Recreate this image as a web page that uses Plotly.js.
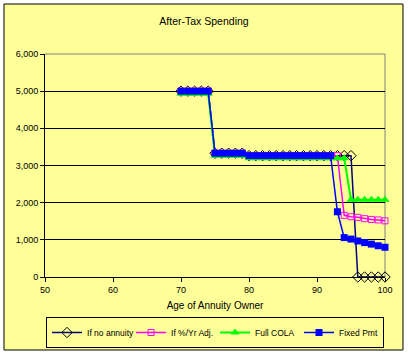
<!DOCTYPE html>
<html>
<head>
<meta charset="utf-8">
<script src="https://cdn.plot.ly/plotly-3.0.1.min.js"></script>
<style>
html,body{margin:0;padding:0;background:#fff;}
#chart{width:408px;height:356px;}
</style>
</head>
<body>
<div id="chart"></div>
<script>
const ages = [70,71,72,73,74,75,76,77,78,79,80,81,82,83,84,85,86,87,88,89,90,91,92,93,94,95,96,97,98,99,100];
const noAnnuity = [5000,5000,5000,5000,5000,3330,3330,3330,3330,3330,3265,3265,3265,3265,3265,3265,3265,3265,3265,3265,3265,3265,3265,3265,3265,3265,0,0,0,0,0];
const pctAdj = [5000,5000,5000,5000,5000,3330,3330,3330,3330,3330,3265,3265,3265,3265,3265,3265,3265,3265,3265,3265,3265,3265,3265,3265,1660,1622,1605,1570,1550,1535,1510];
const fullCola = [4930,4930,4930,4930,4930,3260,3260,3260,3260,3260,3195,3195,3195,3195,3195,3195,3195,3195,3195,3195,3195,3195,3195,3195,3195,2080,2080,2080,2080,2080,2080];
const fixedPmt = [5000,5000,5000,5000,5000,3330,3330,3330,3330,3330,3265,3265,3265,3265,3265,3265,3265,3265,3265,3265,3265,3265,3265,1755,1060,1020,970,925,885,840,800];
const seriesNames = ["If no annuity","If %/Yr Adj.","Full COLA","Fixed Pmt"];
const xTicks = [50,60,70,80,90,100];
const yTicks = [0,1000,2000,3000,4000,5000,6000];

const font = "Arial, 'Liberation Sans', sans-serif";
const traces = [
  {x: ages, y: noAnnuity, name: seriesNames[0], mode: "lines+markers", cliponaxis: false,
   line: {color: "#000080", width: 1.5},
   marker: {symbol: "diamond-open", size: 8, color: "#000000", line: {width: 1}}},
  {x: ages, y: pctAdj, name: seriesNames[1], mode: "lines+markers", cliponaxis: false,
   line: {color: "#FF00FF", width: 1.5},
   marker: {symbol: "square-open", size: 6, color: "#FF00FF", line: {width: 1}}},
  {x: ages, y: fullCola, name: seriesNames[2], mode: "lines+markers", cliponaxis: false,
   line: {color: "#00FF00", width: 2},
   marker: {symbol: "triangle-up", size: 8, color: "#00FF00"}},
  {x: ages, y: fixedPmt, name: seriesNames[3], mode: "lines+markers", cliponaxis: false,
   line: {color: "#0000FF", width: 1.5},
   marker: {symbol: "square", size: 7, color: "#0000FF"}}
];

const layout = {
  width: 408, height: 356,
  margin: {l: 45, r: 23, t: 54, b: 79},
  paper_bgcolor: "#ffffff",
  plot_bgcolor: "rgba(0,0,0,0)",
  font: {family: font, size: 9, color: "#000"},
  title: {text: "After-Tax Spending", font: {family: font, size: 10.5, color: "#000"},
          x: 0.5, xref: "container", y: 0.941, yref: "container", yanchor: "middle"},
  showlegend: true,
  legend: {orientation: "h", xref: "container", yref: "container",
           x: 0.527, xanchor: "center", y: 0.0225, yanchor: "bottom",
           entrywidth: 39, entrywidthmode: "pixels",
           bgcolor: "#FFFF99", bordercolor: "#000", borderwidth: 1,
           font: {family: font, size: 8.5, color: "#000"}, itemwidth: 30, traceorder: "normal"},
  xaxis: {range: [50, 100], tickvals: xTicks, ticks: "outside", ticklen: 4, tickcolor: "#000",
          showgrid: false, zeroline: false, showline: true, linecolor: "#000", linewidth: 1,
          tickfont: {family: font, size: 9, color: "#000"},
          title: {text: "Age of Annuity Owner", font: {family: font, size: 10, color: "#000"}, standoff: 8},
          fixedrange: true},
  yaxis: {range: [0, 6000], tickvals: yTicks, tickformat: ",", ticks: "outside", ticklen: 4, tickcolor: "#000",
          showgrid: true, gridcolor: "#000", gridwidth: 1, zeroline: false,
          showline: true, linecolor: "#000", linewidth: 1,
          tickfont: {family: font, size: 9, color: "#000"}, fixedrange: true},
  shapes: [
    {type: "rect", xref: "paper", yref: "paper", x0: -0.1206, x1: 1.0529, y0: -0.3274, y1: 1.2242,
     fillcolor: "#FFFF99", line: {color: "#000", width: 1}, layer: "below"},
    {type: "line", xref: "paper", yref: "paper", x0: 0, x1: 1, y0: 1, y1: 1,
     line: {color: "#808080", width: 1}, layer: "below"},
    {type: "line", xref: "paper", yref: "paper", x0: 1, x1: 1, y0: 0, y1: 1,
     line: {color: "#808080", width: 1}, layer: "below"}
  ]
};
Plotly.newPlot("chart", traces, layout, {displayModeBar: false, staticPlot: true});
</script>
</body>
</html>
